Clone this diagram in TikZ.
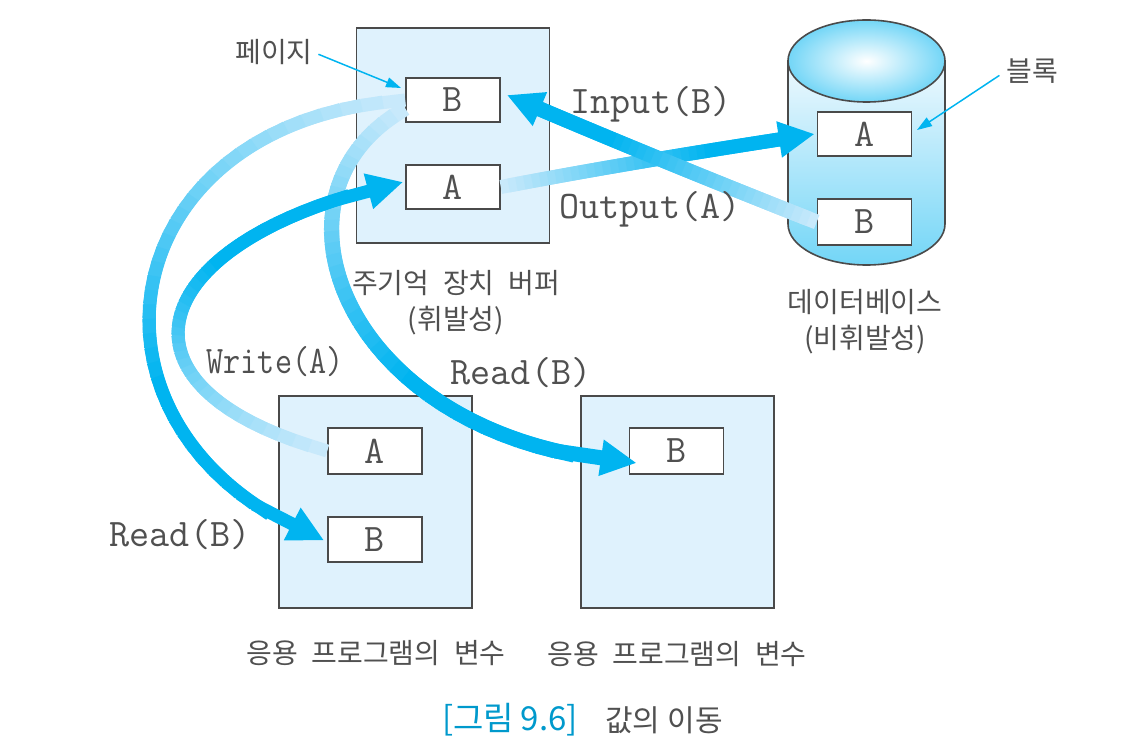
\documentclass[tikz,border=0pt]{standalone}
\usepackage{fontspec}
\usetikzlibrary{arrows.meta,calc,shapes.geometric}
\newfontfamily\krfont[WordSpace=2.2]{Noto Sans CJK KR}

\definecolor{flowdark}{HTML}{00B4F0}
\definecolor{flowlight}{HTML}{C8E9FB}
\definecolor{panelblue}{HTML}{DFF2FD}
\definecolor{edgegray}{HTML}{4A4A4A}
\definecolor{textgray}{HTML}{505050}

\tikzset{
  panel/.style={draw=edgegray,line width=1.6pt,fill=panelblue,minimum width=193pt,minimum height=215pt,inner sep=0pt},
  slot/.style={draw=edgegray,line width=1.6pt,fill=white,minimum width=94pt,minimum height=44pt,inner sep=0pt,
    text=textgray,font=\fontsize{39}{39}\ttfamily},
  opname/.style={text=textgray,inner sep=0pt,font=\fontsize{39}{39}\ttfamily},
  krtext/.style={text=textgray,inner sep=0pt,align=center,font=\fontsize{28}{36}\krfont},
  pointer/.style={draw=flowdark,line width=1.5pt,-{Triangle[length=15pt,width=10pt]}},
}

% start, two controls, end, width
\newcommand{\flowarrow}[5]{
  \foreach \i in {0,...,40}{
    \pgfmathsetmacro{\t}{\i/40}
    \path #1 .. controls #2 and #3 .. #4 coordinate[pos=\t] (fl\i);
  }
  \foreach \i in {0,...,35}{
    \pgfmathtruncatemacro{\j}{\i+2}
    \pgfmathsetmacro{\p}{min(100,100*\i/26)}
    \draw[line width=#5,color=flowdark!\p!flowlight] (fl\i) -- (fl\j);
  }
  \draw[line width=#5,color=flowdark,-{Triangle[length=36pt,width=34pt]}] (fl36) -- (fl40);
}

\begin{document}
\begin{tikzpicture}[x=1pt,y=-1pt]
  \useasboundingbox (0,0) rectangle (1132,751);

  % panels
  \node[panel] (buffer) at (453,135.5) {};
  \node[panel,minimum height=212pt] (varsOne) at (375.5,502) {};
  \node[panel,minimum height=212pt] (varsTwo) at (677.5,502) {};

  % database
  \draw[edgegray,line width=1.6pt,top color=panelblue!50,bottom color=flowdark!55!white]
    (788,61) -- (788,224) .. controls (788,246.6) and (823,265) .. (866.5,265)
    .. controls (910,265) and (945,246.6) .. (945,224) -- (945,61) -- cycle;
  \node[ellipse,draw=edgegray,line width=1.6pt,inner color=white,outer color=flowdark!55!white,
    minimum width=157pt,minimum height=82pt,inner sep=0pt] (dbTop) at (866.5,61) {};

  \node[slot] (bufB) at (453,100) {B};
  \node[slot] (bufA) at (453,187) {A};
  \node[slot] (dbA) at (864.5,134) {A};
  \node[slot,minimum height=46pt] (dbB) at (864.5,222) {B};
  \node[slot,minimum height=46pt] (oneA) at (375,451) {A};
  \node[slot,minimum height=45pt] (oneB) at (375,539.5) {B};
  \node[slot,minimum height=46pt] (twoB) at (676.5,451) {B};

  % moves between the boxes
  \flowarrow{(bufB.190)}{(250,195)}{(345,445)}{($(twoB.west)+(8,12)$)}{15pt}
  \flowarrow{(bufB.west)}{(100,120)}{(60,440)}{($(oneB.west)+(-3,1)$)}{13pt}
  \flowarrow{(oneA.west)}{(90,385)}{(150,235)}{($(bufA.west)+(-2,-5)$)}{13pt}
  \flowarrow{(bufA.east)}{(605,167)}{(710,150)}{($(dbA.west)+(-2,0)$)}{14pt}
  \flowarrow{(dbB.west)}{(710,180)}{(610,139)}{($(bufB.east)+(6,-5)$)}{15pt}

  \node[opname] (inputB) at (651,104) {Input(B)};
  \node[opname] (outputA) at (650,209) {Output(A)};
  \node[opname] (readTwo) at (521,373) {Read(B)};
  \node[opname,xscale=.85,transform shape] (writeA) at (275,362) {Write(A)};
  \node[opname] (readOne) at (180,535) {Read(B)};

  \node[krtext] (lblPage) at (274,52) {페이지};
  \node[krtext] (lblBlock) at (1032,71) {블록};
  \node[krtext] (lblBuffer) at (456,303) {주기억 장치 버퍼\\(휘발성)};
  \node[krtext] (lblDb) at (865,322) {데이터베이스\\(비휘발성)};
  \node[krtext] (lblVarsOne) at (376,653) {응용 프로그램의 변수};
  \node[krtext] (lblVarsTwo) at (677,654) {응용 프로그램의 변수};

  \coordinate (pageTip) at (401,88);
  \coordinate (blockTip) at (917,130);
  \draw[pointer,shorten <=6pt] (lblPage.east) -- (pageTip);
  \draw[pointer,shorten <=8pt] (lblBlock.west) -- (blockTip);

  \node[krtext,text=flowdark!85!black,font=\fontsize{33}{36}\krfont] (capNum) at (510,720) {[그림\hspace{7pt}9.6]};
  \node[krtext,font=\fontsize{30}{36}\krfont] (capText) at (664,720) {값의\hspace{7pt}이동};
\end{tikzpicture}
\end{document}
